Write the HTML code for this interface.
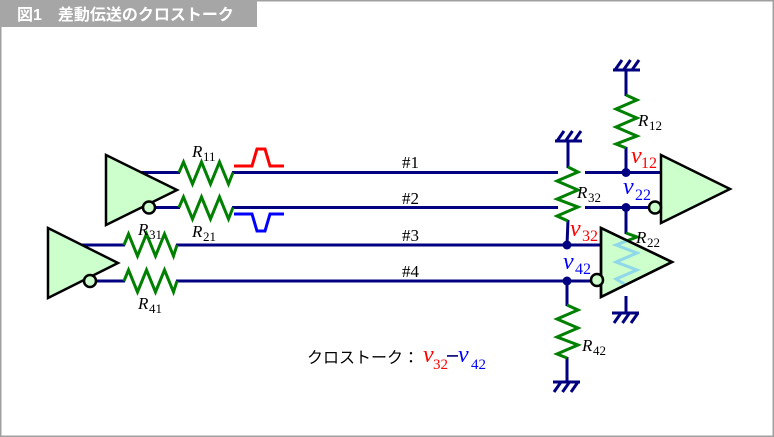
<!DOCTYPE html>
<html>
<head>
<meta charset="utf-8">
<style>
html,body{margin:0;padding:0;background:#fff;}
svg{display:block;}
.serif{font-family:"Liberation Serif","Noto Serif CJK SC",serif;}
.jp{font-family:"Liberation Sans","Noto Sans CJK JP",sans-serif;}
</style>
</head>
<body>
<svg width="774" height="437" viewBox="0 0 774 437" xmlns="http://www.w3.org/2000/svg">
<defs>
  <clipPath id="g4clip"><polygon points="601,228 601,297 672,262"/></clipPath>
</defs>
<rect x="0.75" y="0.75" width="772.5" height="435.5" fill="#fff" stroke="#a0a0a0" stroke-width="1.5"/>
<rect x="0" y="0" width="257" height="27" fill="#a6a6a6"/>
<text x="17" y="20" class="jp" font-size="16" font-weight="bold" fill="#fff">図1　差動伝送のクロストーク</text>

<g fill="none" stroke="#000080" stroke-width="3">
  <line x1="130" y1="172.5" x2="180" y2="172.5"/>
  <line x1="232" y1="172.5" x2="558" y2="172.5"/>
  <line x1="585" y1="172.5" x2="662" y2="172.5"/>
  <line x1="150" y1="207.5" x2="180" y2="207.5"/>
  <line x1="232" y1="207.5" x2="558" y2="207.5"/>
  <line x1="585" y1="207.5" x2="650" y2="207.5"/>
  <line x1="70" y1="245" x2="125" y2="245"/>
  <line x1="176" y1="245" x2="602" y2="245"/>
  <line x1="92" y1="281" x2="125" y2="281"/>
  <line x1="176" y1="281" x2="592" y2="281"/>
  <line x1="626" y1="70" x2="626" y2="96"/>
  <line x1="626" y1="147" x2="626" y2="172.5"/>
  <line x1="568" y1="141" x2="568" y2="168"/>
  <line x1="568" y1="220" x2="567" y2="245"/>
  <line x1="626" y1="207.5" x2="626" y2="234"/>
  <line x1="626" y1="296" x2="626" y2="313"/>
  <line x1="567" y1="281" x2="567" y2="306"/>
  <line x1="567" y1="357" x2="567" y2="382"/>
</g>

<g fill="none" stroke="#000080" stroke-width="3">
  <line x1="613" y1="70" x2="640" y2="70"/>
  <line x1="615" y1="70" x2="622" y2="60"/>
  <line x1="623.5" y1="70" x2="630.5" y2="60"/>
  <line x1="632" y1="70" x2="639" y2="60"/>
  <line x1="555" y1="141" x2="582" y2="141"/>
  <line x1="557" y1="141" x2="564" y2="131"/>
  <line x1="565.5" y1="141" x2="572.5" y2="131"/>
  <line x1="574" y1="141" x2="581" y2="131"/>
  <line x1="612" y1="313" x2="639" y2="313"/>
  <line x1="621" y1="313" x2="614" y2="323"/>
  <line x1="629.5" y1="313" x2="622.5" y2="323"/>
  <line x1="638" y1="313" x2="631" y2="323"/>
  <line x1="553" y1="382" x2="580" y2="382"/>
  <line x1="561" y1="382" x2="554" y2="392"/>
  <line x1="569.5" y1="382" x2="562.5" y2="392"/>
  <line x1="578" y1="382" x2="571" y2="392"/>
</g>

<g fill="none" stroke="#008000" stroke-width="3" stroke-linejoin="miter">
  <polyline points="179,172.5 183.5,162 192.5,184 201.5,162 210.5,184 219.5,162 228.5,184 233,172.5"/>
  <polyline points="179,207.5 183.5,197 192.5,219 201.5,197 210.5,219 219.5,197 228.5,219 233,207.5"/>
  <polyline points="124,245 128.5,234 137.5,256 146.5,234 155.5,256 164.5,234 173.5,256 177,245"/>
  <polyline points="124,281 128.5,270 137.5,292 146.5,270 155.5,292 164.5,270 173.5,292 177,281"/>
  <polyline points="626,95 637,100 616,109 637,118 616,127 637,136 616,144 626,148"/>
  <polyline points="568,167 578,172 557,181 578,190 557,199 578,207 557,216 568,221"/>
  <polyline points="567,305 578,310 557,319 578,328 557,337 578,345 557,354 567,358"/>
  <polyline points="626,233 637,237 616,245 637,253 616,262 637,270 616,279 626,285"/>
</g>

<polyline points="234,166 252,166 257,149 265,149 270,166 284,166" fill="none" stroke="#ff0000" stroke-width="3"/>
<polyline points="234,214 252,214 257,231 265,231 270,214 284,214" fill="none" stroke="#0000ff" stroke-width="3"/>

<g stroke="#000" stroke-width="2.5" stroke-linejoin="miter">
  <polygon points="106,155 106,225 177,190" fill="#ccffcc"/>
  <circle cx="149" cy="207.5" r="6" fill="#ccffcc"/>
  <polygon points="48,228 48,298 118,263" fill="#ccffcc"/>
  <circle cx="90" cy="281" r="6" fill="#ccffcc"/>
  <polygon points="661,155 661,223 730,189" fill="#ccffcc"/>
  <circle cx="655" cy="207.5" r="6" fill="#ccffcc"/>
  <polygon points="601,228 601,297 672,262" fill="#ccffcc"/>
</g>
<g clip-path="url(#g4clip)">
  <polyline points="626,233 637,237 616,245 637,253 616,262 637,270 616,279 626,285" fill="none" stroke="#8fd8ea" stroke-width="3"/>
</g>
<polygon points="601,228 601,297 672,262" fill="none" stroke="#000" stroke-width="2.5"/>
<circle cx="597" cy="280" r="6" fill="#ccffcc" stroke="#000" stroke-width="2.5"/>

<g fill="#000080">
  <circle cx="626" cy="172.5" r="4.5"/>
  <circle cx="626" cy="207.5" r="4.5"/>
  <circle cx="567" cy="245" r="4.5"/>
  <circle cx="567" cy="281" r="4.5"/>
</g>

<g class="serif" font-size="17" fill="#000">
  <text x="402" y="168">#1</text>
  <text x="402" y="204">#2</text>
  <text x="402" y="241">#3</text>
  <text x="402" y="277">#4</text>
</g>

<g class="serif" fill="#000">
  <text x="192" y="157" font-size="17" font-style="italic">R</text><text x="203" y="161" font-size="13">11</text>
  <text x="192" y="237" font-size="17" font-style="italic">R</text><text x="203" y="241" font-size="13">21</text>
  <text x="138" y="235" font-size="17" font-style="italic">R</text><text x="149" y="239" font-size="13">31</text>
  <text x="138" y="309" font-size="17" font-style="italic">R</text><text x="149" y="313" font-size="13">41</text>
  <text x="638" y="126" font-size="17" font-style="italic">R</text><text x="649" y="130" font-size="13">12</text>
  <text x="577" y="198" font-size="17" font-style="italic">R</text><text x="588" y="202" font-size="13">32</text>
  <text x="636" y="243" font-size="17" font-style="italic">R</text><text x="647" y="247" font-size="13">22</text>
  <text x="582" y="351" font-size="17" font-style="italic">R</text><text x="593" y="355" font-size="13">42</text>
</g>

<g class="serif">
  <text x="631" y="163" font-size="24" font-style="italic" fill="#ff0000">v</text><text x="641" y="168" font-size="16" fill="#ff0000">12</text>
  <text x="623" y="194" font-size="24" font-style="italic" fill="#0000ff">v</text><text x="635" y="200" font-size="16" fill="#0000ff">22</text>
  <text x="570" y="236" font-size="24" font-style="italic" fill="#ff0000">v</text><text x="582" y="241" font-size="16" fill="#ff0000">32</text>
  <text x="563" y="269" font-size="24" font-style="italic" fill="#0000ff">v</text><text x="575" y="274" font-size="16" fill="#0000ff">42</text>
</g>

<text x="307" y="363" class="jp" font-size="16" fill="#000">クロストーク：</text>
<text x="423" y="362" class="serif" font-size="24" font-style="italic" fill="#ff0000">v</text>
<text x="433" y="369" class="serif" font-size="15" fill="#ff0000">32</text>
<rect x="447" y="355" width="11" height="1.8" fill="#1a1a80"/>
<text x="458" y="362" class="serif" font-size="24" font-style="italic" fill="#0000ff">v</text>
<text x="471" y="369" class="serif" font-size="15" fill="#0000ff">42</text>
</svg>
</body>
</html>
